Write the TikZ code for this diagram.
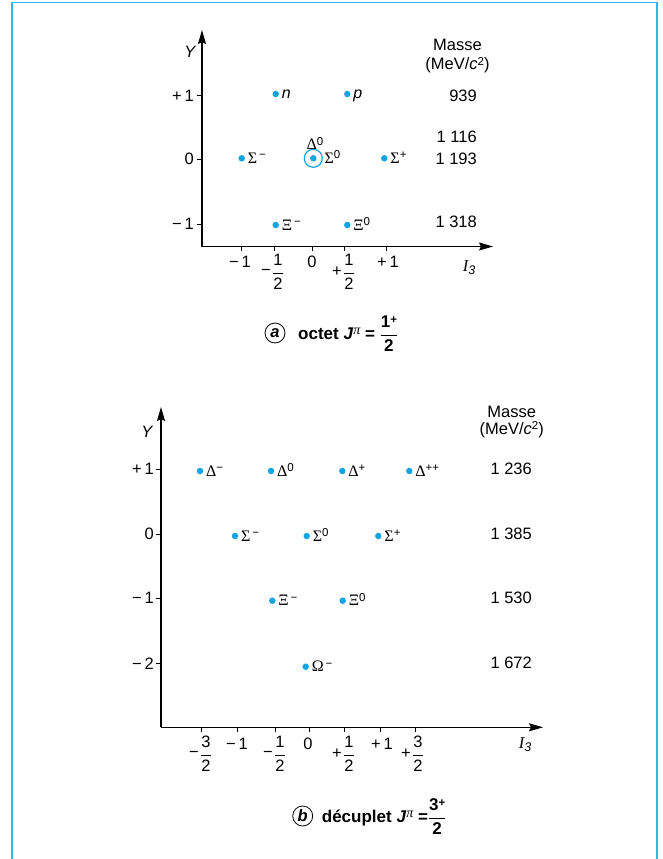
\documentclass[tikz,border=0pt]{standalone}
\usepackage{amsmath}
\usepackage{fontspec}
\setmainfont{Liberation Sans}
\newfontfamily\grkfont{Liberation Serif}
\usetikzlibrary{arrows.meta,positioning}
\definecolor{dotcyan}{RGB}{20,165,225}
\definecolor{framecyan}{RGB}{45,185,235}
\newcommand{\supx}[1]{\raisebox{4.5pt}{\fontsize{11.5}{12}\selectfont #1}}
\newcommand{\ptcl}[2]{{\grkfont #1}\supx{#2}}
\newcommand{\halfof}[1]{$\dfrac{\text{#1}}{\text{2}}$}
\newcommand{\isospin}{{\grkfont\itshape I}\raisebox{-3pt}{\fontsize{12.5}{13}\selectfont\itshape 3}}
\tikzset{
  axisline/.style={line width=1.3pt, -{Stealth[length=14pt,width=8pt,inset=2pt]}},
  tickmark/.style={line width=1pt},
  pdot/.style={circle, fill=dotcyan, inner sep=0pt, minimum size=6.5pt},
  ring/.style={circle, draw=dotcyan, line width=1.2pt, inner sep=0pt, minimum size=18pt},
  plabel/.style={anchor=base west, yshift=-5pt, inner sep=0pt, font=\fontsize{16}{19}\selectfont},
  ticklab/.style={inner sep=0pt, font=\fontsize{16.5}{19}\selectfont},
  ylab/.style={ticklab, anchor=east},
  masslab/.style={ticklab, anchor=east},
  captext/.style={anchor=base west, inner sep=0pt, font=\fontsize{17}{20}\selectfont\bfseries},
  capletter/.style={circle, draw, line width=0.8pt, inner sep=0pt, minimum size=20pt,
    font=\fontsize{16.5}{19}\selectfont\bfseries\itshape},
}

\begin{document}
\begin{tikzpicture}[x=1pt, y=-1pt]
  \useasboundingbox (0,0) rectangle (662,859);
  % frame
  \draw[framecyan, line width=1.5pt] (12,859) -- (12,2.5) -- (657,2.5) -- (657,859);

  % ---- (a) octet ----
  \coordinate (oa) at (202,246.5);
  \coordinate (ya) at (202,30);
  \coordinate (xa) at (493,246.5);
  \draw[axisline] (oa) -- (ya);
  \draw[axisline] (oa) -- (xa);
  \foreach \y in {95.7,159.3,224.3} \draw[tickmark] (197,\y) -- (202,\y);
  \foreach \x in {241.7,274.3,312.3,344,386.7} \draw[tickmark] (\x,246.5) -- (\x,251);
  \node (yaxa) [ticklab, font=\fontsize{16.5}{19}\selectfont\itshape] at (190,52) {Y};
  \node (i3a) [ticklab, anchor=base] at (469,271) {\isospin};
  \node (ypa) [ylab] at (194,95.7) {+\,1};
  \node (y0a) [ylab] at (194,159.3) {0};
  \node (yma) [ylab] at (194,224.3) {−\,1};
  \node (xm1a) [ticklab] at (240,262) {−\,1};
  \node (xmha) [ticklab] at (278,272) {\halfof{1}};
  \node (xmhsa) [ticklab, left=1pt of xmha] {−};
  \node (x0a) [ticklab] at (312,262) {0};
  \node (xpha) [ticklab] at (349,272) {\halfof{1}};
  \node (xphsa) [ticklab, left=1pt of xpha] {+};
  \node (xp1a) [ticklab] at (388,262) {+\,1};
  \node (massea) [ticklab] at (457.5,45) {Masse};
  \node (unita) [ticklab] at (457.5,65) {(MeV/\textit{c}\supx{2})};
  \node (m939) [masslab] at (477,95.7) {939};
  \node (m1116) [masslab] at (477,136.7) {1 116};
  \node (m1193) [masslab] at (477,159.3) {1 193};
  \node (m1318) [masslab] at (477,222) {1 318};
  % particles
  \node (n) [pdot] at (275.7,94) {};
  \node (nlab) [right=2.5pt of n, plabel] {\textit{n}};
  \node (p) [pdot] at (347.3,94) {};
  \node (plab) [right=2.5pt of p, plabel] {\textit{p}};
  \node (sm) [pdot] at (241.7,158.3) {};
  \node (smlab) [right=2.5pt of sm, plabel] {\ptcl{Σ}{\,−}};
  \node (s0) [pdot] at (313.3,158.3) {};
  \node (s0ring) [ring] at (s0) {};
  \node (s0lab) [right=1.5pt of s0ring, plabel] {\ptcl{Σ}{0}};
  \node (l0lab) [plabel, anchor=base, yshift=0pt] at (315,144.5) {\ptcl{Δ}{0}};
  \node (sp) [pdot] at (384.3,158.3) {};
  \node (splab) [right=2.5pt of sp, plabel] {\ptcl{Σ}{+}};
  \node (xm) [pdot] at (275.7,225) {};
  \node (xmlab) [right=2.5pt of xm, plabel] {\ptcl{Ξ}{\,−}};
  \node (x0) [pdot] at (347.3,225) {};
  \node (x0lab) [right=2.5pt of x0, plabel] {\ptcl{Ξ}{0}};
  % caption
  \node (capa) [capletter] at (275,333) {a};
  \node (capatext) [captext] at (298,339.3) {octet \textit{J}\supx{\fontsize{14}{14}\grkfont\mdseries\itshape π} = \halfof{1\supx{+}}};

  % ---- (b) decuplet ----
  \coordinate (ob) at (161,727.3);
  \coordinate (yb) at (161,407);
  \coordinate (xb) at (543,727.3);
  \draw[axisline] (ob) -- (yb);
  \draw[axisline] (ob) -- (xb);
  \foreach \y in {469.3,534,598.3,663.3} \draw[tickmark] (156,\y) -- (161,\y);
  \foreach \x in {201.7,237.7,275,309.3,344,380,415} \draw[tickmark] (\x,727.3) -- (\x,731.5);
  \node (yaxb) [ticklab, font=\fontsize{16.5}{19}\selectfont\itshape] at (147,432) {Y};
  \node (i3b) [ticklab, anchor=base] at (525,748) {\isospin};
  \node (ypb) [ylab] at (154,469.3) {+\,1};
  \node (y0b) [ylab] at (154,534) {0};
  \node (ymb) [ylab] at (154,598.3) {−\,1};
  \node (ymmb) [ylab] at (154,663.3) {−\,2};
  \node (xmtb) [ticklab] at (206,754) {\halfof{3}};
  \node (xmtsb) [ticklab, left=1pt of xmtb] {−};
  \node (xm1b) [ticklab] at (237,744) {−\,1};
  \node (xmhb) [ticklab] at (280,754) {\halfof{1}};
  \node (xmhsb) [ticklab, left=1pt of xmhb] {−};
  \node (x0b) [ticklab] at (308,744) {0};
  \node (xphb) [ticklab] at (349,754) {\halfof{1}};
  \node (xphsb) [ticklab, left=1pt of xphb] {+};
  \node (xp1b) [ticklab] at (382,744) {+\,1};
  \node (xptb) [ticklab] at (418,754) {\halfof{3}};
  \node (xptsb) [ticklab, left=1pt of xptb] {+};
  \node (masseb) [ticklab] at (511.7,412) {Masse};
  \node (unitb) [ticklab] at (511.7,429.5) {(MeV/\textit{c}\supx{2})};
  \node (m1236) [masslab] at (532,469.3) {1 236};
  \node (m1385) [masslab] at (532,534) {1 385};
  \node (m1530) [masslab] at (532,598.3) {1 530};
  \node (m1672) [masslab] at (532,663.3) {1 672};
  % particles
  \node (dm) [pdot] at (200,471) {};
  \node (dmlab) [right=2.5pt of dm, plabel] {\ptcl{Δ}{−}};
  \node (dz) [pdot] at (271,471) {};
  \node (dzlab) [right=2.5pt of dz, plabel] {\ptcl{Δ}{0}};
  \node (dp) [pdot] at (342.3,471) {};
  \node (dplab) [right=2.5pt of dp, plabel] {\ptcl{Δ}{+}};
  \node (dpp) [pdot] at (409.3,471) {};
  \node (dpplab) [right=2.5pt of dpp, plabel] {\ptcl{Δ}{++}};
  \node (bsm) [pdot] at (235,536) {};
  \node (bsmlab) [right=2.5pt of bsm, plabel] {\ptcl{Σ}{\,−}};
  \node (bs0) [pdot] at (306.7,536) {};
  \node (bs0lab) [right=2.5pt of bs0, plabel] {\ptcl{Σ}{0}};
  \node (bsp) [pdot] at (378.3,536) {};
  \node (bsplab) [right=2.5pt of bsp, plabel] {\ptcl{Σ}{+}};
  \node (bxm) [pdot] at (272.3,600.7) {};
  \node (bxmlab) [right=2.5pt of bxm, plabel] {\ptcl{Ξ}{\,−}};
  \node (bx0) [pdot] at (342.7,600.7) {};
  \node (bx0lab) [right=2.5pt of bx0, plabel] {\ptcl{Ξ}{0}};
  \node (om) [pdot] at (305.7,666.7) {};
  \node (omlab) [right=2.5pt of om, plabel] {\ptcl{Ω}{\,−}};
  % caption
  \node (capb) [capletter] at (302.7,816) {b};
  \node (capbtext) [captext] at (321.7,822.3) {décuplet \textit{J}\supx{\fontsize{14}{14}\grkfont\mdseries\itshape π} =\halfof{3\supx{+}}};
\end{tikzpicture}
\end{document}
